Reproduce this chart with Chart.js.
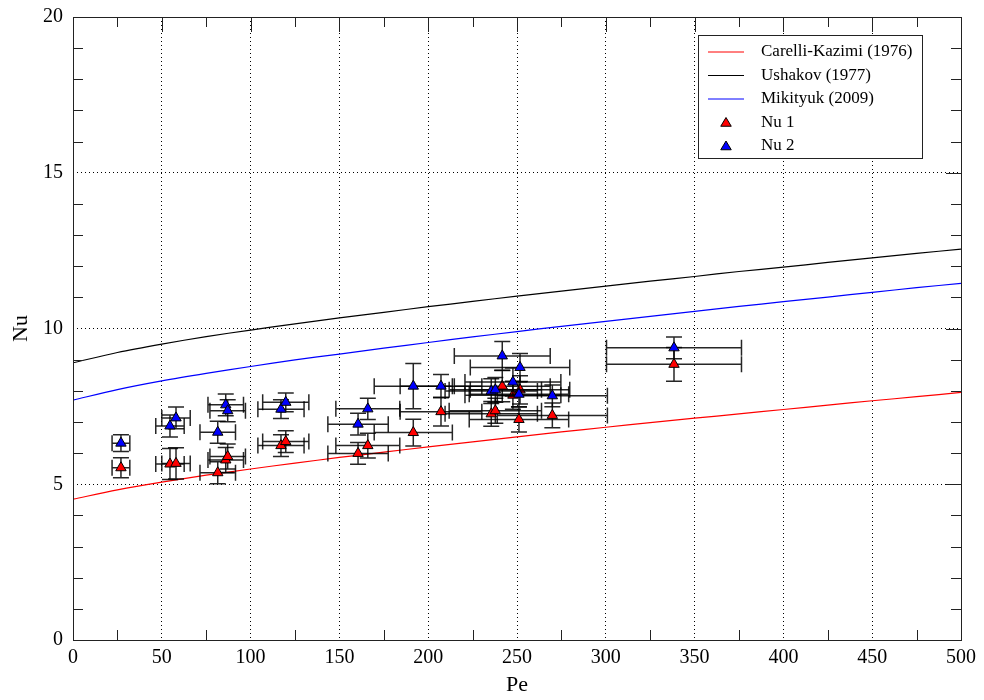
<!DOCTYPE html>
<html>
<head>
  <title>Nu vs Pe</title>
  <script src="https://cdn.jsdelivr.net/npm/chart.js"></script>
  <style>
    body { margin: 0; background: #fff; }
  </style>
</head>
<body>
  <canvas id="nuChart" width="984" height="700"></canvas>

  <script>
    // correlation curves, every 25 in Pe
    const pePoints = [0, 25, 50, 75, 100, 125, 150, 175, 200, 225, 250, 275, 300, 325, 350, 375, 400, 425, 450, 475, 500];
    const carelliKazimi = [4.52, 4.82, 5.07, 5.29, 5.49, 5.68, 5.86, 6.03, 6.20, 6.36, 6.52, 6.68, 6.83, 6.98, 7.12, 7.26, 7.40, 7.54, 7.68, 7.81, 7.95];
    const ushakov = [8.90, 9.23, 9.50, 9.74, 9.95, 10.15, 10.34, 10.52, 10.70, 10.87, 11.04, 11.20, 11.36, 11.52, 11.67, 11.83, 11.97, 12.12, 12.27, 12.41, 12.55];
    const mikityuk = [7.70, 8.04, 8.32, 8.56, 8.78, 8.99, 9.18, 9.37, 9.55, 9.73, 9.90, 10.07, 10.23, 10.39, 10.55, 10.71, 10.86, 11.01, 11.16, 11.31, 11.45];

    // measured points with their error bars
    const pe    = [27, 54.6, 58, 81.5, 86, 87.1, 117.1, 119.8, 160.5, 166, 191.6, 207.2, 235.5, 237.8, 241.7, 247.7, 251.1, 251.7, 269.9, 338.4];
    const peErr = [5, 8, 8, 10, 10, 10, 13, 13, 17, 18, 22, 23, 26, 26, 27, 27, 28, 28, 31, 38];
    const nu1    = [5.53, 5.65, 5.67, 5.37, 5.78, 5.89, 6.24, 6.37, 5.99, 6.24, 6.66, 7.33, 7.26, 7.36, 8.15, 7.86, 7.08, 8.03, 7.21, 8.85];
    const nu1Err = [0.32, 0.5, 0.5, 0.35, 0.4, 0.4, 0.35, 0.35, 0.35, 0.4, 0.43, 0.46, 0.4, 0.4, 0.5, 0.45, 0.4, 0.45, 0.4, 0.54];
    const nu2    = [6.32, 6.87, 7.13, 6.67, 7.55, 7.36, 7.41, 7.63, 6.93, 7.42, 8.15, 8.15, 7.99, 8.03, 9.12, 8.28, 7.89, 8.75, 7.84, 9.38];
    const nu2Err = [0.27, 0.35, 0.35, 0.35, 0.35, 0.35, 0.3, 0.3, 0.35, 0.34, 0.73, 0.37, 0.4, 0.4, 0.46, 0.45, 0.4, 0.45, 0.35, 0.35];

    const serif = "'Liberation Serif', 'DejaVu Serif', serif";

    function curve(ys) {
      return pePoints.map((x, i) => ({ x: x, y: ys[i] }));
    }
    function points(ys) {
      return pe.map((x, i) => ({ x: x, y: ys[i] }));
    }

    // error bars drawn under each scatter set
    const errorBars = {
      id: 'errorBars',
      beforeDatasetDraw(chart, args) {
        const ds = chart.data.datasets[args.index];
        if (!ds.errX) return;
        const xs = chart.scales.x, ys = chart.scales.y;
        const ctx = chart.ctx;
        const cap = 8;
        ctx.save();
        ctx.strokeStyle = 'rgba(0,0,0,0.85)';
        ctx.lineWidth = 1.5;
        ds.data.forEach((p, i) => {
          const x = xs.getPixelForValue(p.x), y = ys.getPixelForValue(p.y);
          const xl = xs.getPixelForValue(p.x - ds.errX[i]);
          const xr = xs.getPixelForValue(p.x + ds.errX[i]);
          const yt = ys.getPixelForValue(p.y + ds.errY[i]);
          const yb = ys.getPixelForValue(p.y - ds.errY[i]);
          ctx.beginPath();
          ctx.moveTo(xl, y); ctx.lineTo(xr, y);
          ctx.moveTo(xl, y - cap); ctx.lineTo(xl, y + cap);
          ctx.moveTo(xr, y - cap); ctx.lineTo(xr, y + cap);
          ctx.moveTo(x, yt); ctx.lineTo(x, yb);
          ctx.moveTo(x - cap, yt); ctx.lineTo(x + cap, yt);
          ctx.moveTo(x - cap, yb); ctx.lineTo(x + cap, yb);
          ctx.stroke();
        });
        ctx.restore();
      }
    };

    // frame with inward ticks on all four sides
    const frame = {
      id: 'frame',
      afterDraw(chart) {
        const { ctx, chartArea: a } = chart;
        const xs = chart.scales.x, ys = chart.scales.y;
        ctx.save();
        ctx.strokeStyle = '#222';
        ctx.lineWidth = 1;
        ctx.beginPath();
        for (let v = 25; v < 500; v += 50) {
          const px = Math.round(xs.getPixelForValue(v)) + 0.5;
          ctx.moveTo(px, a.bottom); ctx.lineTo(px, a.bottom - 10);
          ctx.moveTo(px, a.top); ctx.lineTo(px, a.top + 10);
        }
        for (let v = 50; v < 500; v += 50) {
          const px = Math.round(xs.getPixelForValue(v)) + 0.5;
          ctx.moveTo(px, a.top); ctx.lineTo(px, a.top + 15);
        }
        for (let v = 1; v < 20; v++) {
          const py = Math.round(ys.getPixelForValue(v)) + 0.5;
          if (v % 5 === 0) {
            ctx.moveTo(a.right, py); ctx.lineTo(a.right - 15, py);
          } else {
            ctx.moveTo(a.left, py); ctx.lineTo(a.left + 10, py);
            ctx.moveTo(a.right, py); ctx.lineTo(a.right - 10, py);
          }
        }
        ctx.stroke();
        ctx.strokeRect(Math.round(a.left) + 0.5, Math.round(a.top) + 0.5,
          Math.round(a.right - a.left), Math.round(a.bottom - a.top));
        ctx.restore();
      }
    };

    // boxed legend in the upper right corner of the plot
    const boxLegend = {
      id: 'boxLegend',
      afterDraw(chart) {
        const ctx = chart.ctx, a = chart.chartArea;
        const left = a.right - 263, top = a.top + 18, w = 224, h = 123;
        ctx.save();
        ctx.fillStyle = '#fff';
        ctx.fillRect(left, top, w, h);
        ctx.strokeStyle = '#222';
        ctx.lineWidth = 1;
        ctx.strokeRect(left + 0.5, top + 0.5, w, h);
        ctx.font = '17px ' + serif;
        ctx.textBaseline = 'middle';
        chart.data.datasets.forEach((ds, i) => {
          const y = top + 17 + i * 23.5;
          if (ds.type === 'line') {
            ctx.strokeStyle = ds.borderColor;
            ctx.lineWidth = 1;
            ctx.beginPath();
            ctx.moveTo(left + 10, y); ctx.lineTo(left + 46, y);
            ctx.stroke();
          } else {
            const cx = left + 28, r = 5;
            ctx.beginPath();
            ctx.moveTo(cx, y - r);
            ctx.lineTo(cx + r * 1.05, y + r * 0.75);
            ctx.lineTo(cx - r * 1.05, y + r * 0.75);
            ctx.closePath();
            ctx.fillStyle = ds.backgroundColor;
            ctx.fill();
            ctx.strokeStyle = '#000';
            ctx.stroke();
          }
          ctx.fillStyle = '#000';
          ctx.fillText(ds.label, left + 63, y);
        });
        ctx.restore();
      }
    };

    const ctx = document.getElementById('nuChart').getContext('2d');
    new Chart(ctx, {
      data: {
        datasets: [
          { type: 'line', label: 'Carelli-Kazimi (1976)', data: curve(carelliKazimi),
            borderColor: 'rgb(255,0,0)', borderWidth: 1.2, pointRadius: 0, tension: 0.3, order: 5 },
          { type: 'line', label: 'Ushakov (1977)', data: curve(ushakov),
            borderColor: 'rgb(0,0,0)', borderWidth: 1.2, pointRadius: 0, tension: 0.3, order: 4 },
          { type: 'line', label: 'Mikityuk (2009)', data: curve(mikityuk),
            borderColor: 'rgb(0,0,255)', borderWidth: 1.2, pointRadius: 0, tension: 0.3, order: 3 },
          { type: 'scatter', label: 'Nu 1', data: points(nu1), errX: peErr, errY: nu1Err,
            pointStyle: 'triangle', pointRadius: 6, backgroundColor: 'rgb(255,0,0)',
            borderColor: '#000', borderWidth: 1, order: 2 },
          { type: 'scatter', label: 'Nu 2', data: points(nu2), errX: peErr, errY: nu2Err,
            pointStyle: 'triangle', pointRadius: 6, backgroundColor: 'rgb(0,0,255)',
            borderColor: '#000', borderWidth: 1, order: 1 }
        ]
      },
      options: {
        responsive: false,
        animation: false,
        layout: { padding: { top: 17, right: 23, left: 0, bottom: 0 } },
        plugins: {
          legend: { display: false },
          tooltip: { enabled: false }
        },
        scales: {
          x: {
            type: 'linear',
            min: 0, max: 500,
            afterFit: s => { s.height = 60; s.paddingTop = 0; s.paddingRight = 0; },
            border: { display: false, dash: [1, 3] },
            grid: {
              drawTicks: false,
              lineWidth: 1,
              color: c => (c.tick.value % 50 === 0 && c.tick.value > 0 && c.tick.value < 500) ? '#000' : 'rgba(0,0,0,0)'
            },
            ticks: {
              stepSize: 25,
              padding: 6,
              maxRotation: 0,
              autoSkip: false,
              color: '#000',
              font: { family: serif, size: 20 },
              callback: v => (v % 50 === 0 ? v : '')
            },
            title: {
              display: true, text: 'Pe', color: '#000',
              font: { family: serif, size: 22 },
              padding: { top: 0, bottom: 2 }
            }
          },
          y: {
            min: 0, max: 20,
            afterFit: s => { s.width = 73; s.paddingTop = 0; s.paddingBottom = 0; },
            border: { display: false, dash: [1, 3] },
            grid: {
              drawTicks: false,
              lineWidth: 1,
              color: c => (c.tick.value % 5 === 0 && c.tick.value > 0 && c.tick.value < 20) ? '#000' : 'rgba(0,0,0,0)'
            },
            ticks: {
              stepSize: 1,
              padding: 10,
              autoSkip: false,
              color: '#000',
              font: { family: serif, size: 20 },
              callback: v => (v % 5 === 0 ? v : '')
            },
            title: {
              display: true, text: 'Nu', color: '#000',
              font: { family: serif, size: 22 },
              padding: { top: 8, bottom: 0 }
            }
          }
        }
      },
      plugins: [errorBars, frame, boxLegend]
    });
  </script>
</body>
</html>
